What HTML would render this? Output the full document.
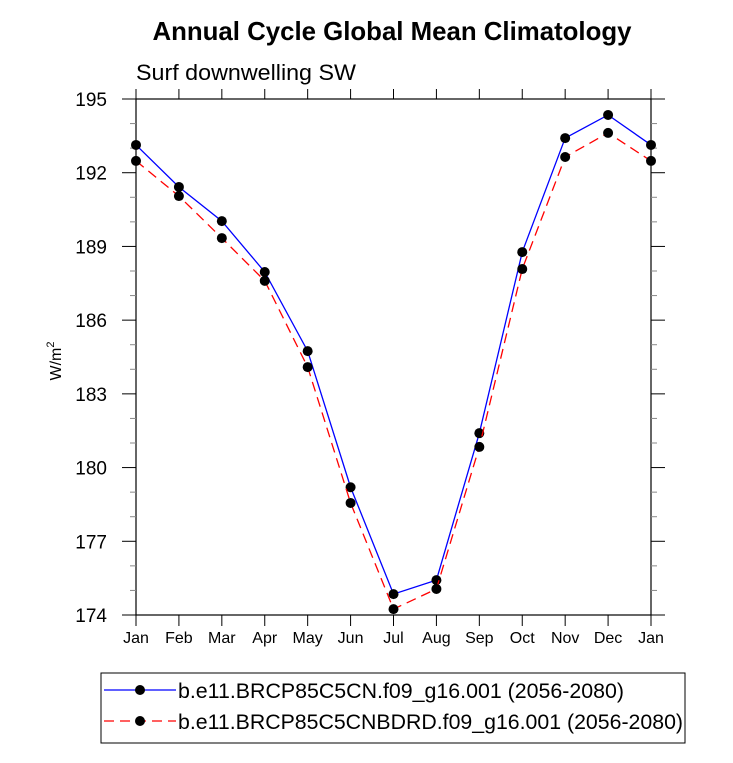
<!DOCTYPE html>
<html><head><meta charset="utf-8"><style>body{margin:0;background:#fff}svg{display:block;font-family:"Liberation Sans",sans-serif}</style></head>
<body>
<svg id="c" width="733" height="763"></svg>
<script>
const months=["Jan","Feb","Mar","Apr","May","Jun","Jul","Aug","Sep","Oct","Nov","Dec","Jan"];
const seriesA=[193.13,191.42,190.03,187.96,184.74,179.2,174.85,175.42,181.4,188.77,193.41,194.35,193.13];
const seriesB=[192.48,191.05,189.34,187.6,184.09,178.56,174.24,175.06,180.84,188.08,192.64,193.62,192.48];
const yTicks=[174,177,180,183,186,189,192,195];
const NS="http://www.w3.org/2000/svg",svg=document.getElementById('c');
const L=136,R=651,T=99,B=615,ymin=174,ymax=195;
const xs=i=>L+(R-L)*i/12, ys=v=>B-(v-ymin)/(ymax-ymin)*(B-T);
function el(t,a,p){const e=document.createElementNS(NS,t);for(const k in a)e.setAttribute(k,a[k]);(p||svg).appendChild(e);return e;}
function txt(s,a){const e=el('text',a);e.textContent=s;return e;}
let t=txt('Annual Cycle Global Mean Climatology',{x:392,y:40,'text-anchor':'middle','font-size':26,'font-weight':'bold',textLength:479,lengthAdjust:'spacingAndGlyphs'});

t=txt('Surf downwelling SW',{x:136,y:80,'font-size':22,textLength:220,lengthAdjust:'spacingAndGlyphs'});

let fr=el('rect',{x:L,y:T,width:R-L,height:B-T,fill:'none',stroke:'#000','stroke-width':1.2});

for(let v=ymin;v<=ymax;v++){const maj=(v-ymin)%3==0,y=ys(v);
 el('line',{x1:L,x2:L-(maj?14:6),y1:y,y2:y,stroke:maj?'#000':'#888'});
 el('line',{x1:R,x2:R+(maj?14:6),y1:y,y2:y,stroke:maj?'#000':'#888'});}
yTicks.forEach(v=>{const e=txt(v,{x:L-29,y:ys(v)+7,'text-anchor':'end','font-size':19});
 });
months.forEach((m,i)=>{const x=xs(i);
 el('line',{x1:x,x2:x,y1:B,y2:B+11,stroke:'#000'});el('line',{x1:x,x2:x,y1:T,y2:T-10,stroke:'#000'});
 const e=txt(m,{x:x,y:B+28,'text-anchor':'middle','font-size':16});
 });
t=txt('',{transform:'translate(61,361) rotate(-90)','text-anchor':'middle','font-size':16});
t.innerHTML='W/m<tspan dy="-7" font-size="11">2</tspan>';

function series(d,col,dash,name){const g=el('g',{});
 el('polyline',{points:d.map((v,i)=>xs(i)+','+ys(v)).join(' '),fill:'none',stroke:col,'stroke-width':1.3,'stroke-dasharray':dash},g);
 d.forEach((v,i)=>{const c=el('circle',{cx:xs(i),cy:ys(v),r:5,fill:'#000'},g);
  });}
series(seriesA,'#0000ff','none','series-bcrp85c5cn');
series(seriesB,'#ff0000','10 6','series-bcrp85c5cnbdrd');
const lg=el('g',{});
el('rect',{x:101,y:673,width:584,height:70,fill:'none',stroke:'#000'},lg);
el('line',{x1:104,x2:176,y1:690,y2:690,stroke:'#0000ff','stroke-width':1.3},lg);
el('circle',{cx:140,cy:690,r:5},lg);
el('line',{x1:104,x2:176,y1:721,y2:721,stroke:'#ff0000','stroke-width':1.3,'stroke-dasharray':'10 6'},lg);
el('circle',{cx:140,cy:721,r:5},lg);
let l1=txt('b.e11.BRCP85C5CN.f09_g16.001 (2056-2080)',{x:178,y:698,'font-size':21,textLength:446,lengthAdjust:'spacingAndGlyphs'});lg.appendChild(l1);

let l2=txt('b.e11.BRCP85C5CNBDRD.f09_g16.001 (2056-2080)',{x:178,y:729,'font-size':21,textLength:505,lengthAdjust:'spacingAndGlyphs'});lg.appendChild(l2);

</script>
</body></html>
